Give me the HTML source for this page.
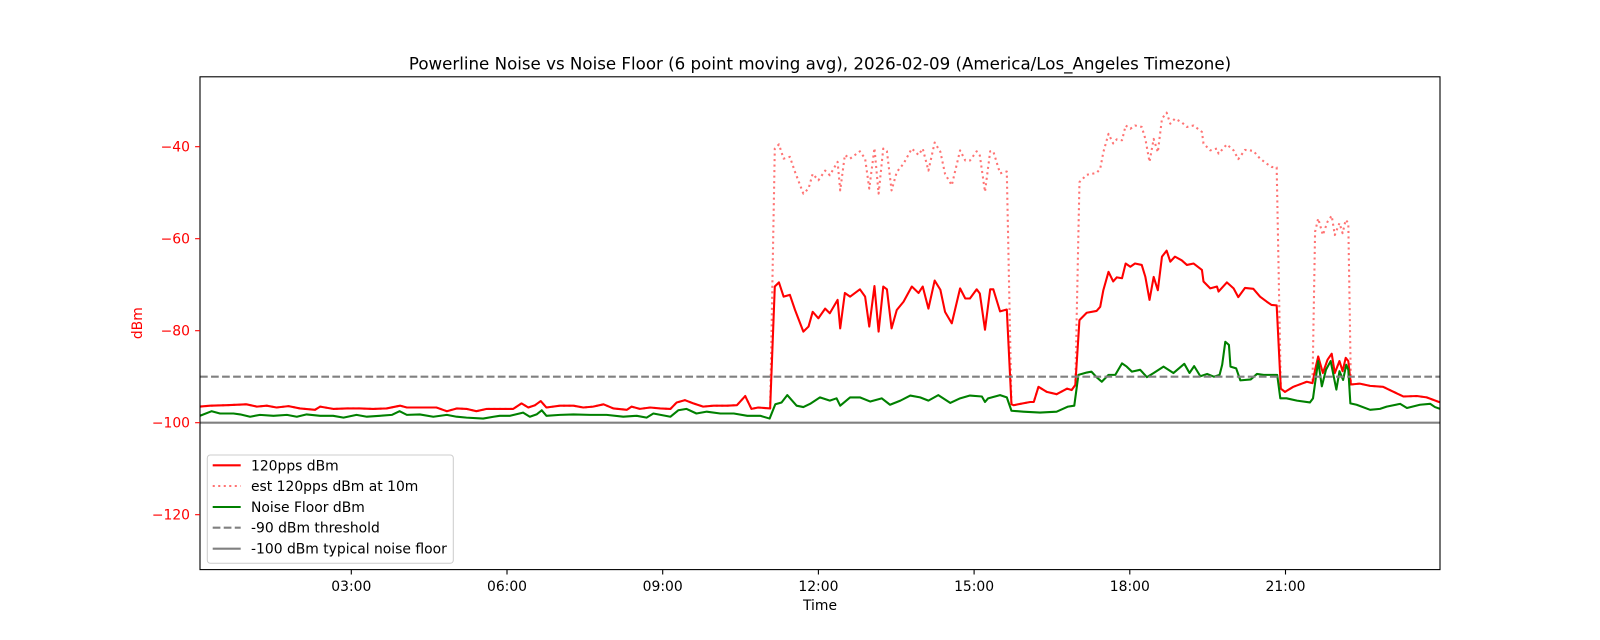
<!DOCTYPE html>
<html>
<head>
<meta charset="utf-8">
<style>
  html,body{margin:0;padding:0;background:#fff;}
  svg{display:block;}
  text{font-family:"DejaVu Sans","Liberation Sans",sans-serif;}
</style>
</head>
<body>
<svg width="1600" height="640" viewBox="0 0 1600 640" xmlns="http://www.w3.org/2000/svg">
  <defs>
    <clipPath id="ax">
      <rect x="200" y="76.8" width="1240" height="492.8"/>
    </clipPath>
  </defs>
  <rect width="1600" height="640" fill="#fff"/>

  <g clip-path="url(#ax)">
    <g transform="matrix(51.9 0 0 -4.6 195.6 -37.3)" fill="none" stroke-linejoin="round">
      <!-- 120pps dBm -->
      <polyline vector-effect="non-scaling-stroke" stroke="#ff0000" stroke-width="2.08" points="
0.085,-96.5 0.28,-96.3 0.6,-96.2 0.98,-96.0 1.18,-96.5 1.37,-96.3 1.56,-96.7 1.79,-96.4 2.01,-96.9 2.30,-97.2 2.40,-96.5 2.65,-97.0 2.91,-96.9 3.17,-96.9 3.42,-97.0 3.68,-96.9 3.94,-96.3 4.07,-96.7 4.45,-96.7 4.64,-96.7 4.84,-97.5 5.03,-96.9 5.22,-97.0 5.41,-97.5 5.61,-97.0 5.86,-97.0 6.12,-97.0 6.28,-95.8 6.41,-96.7 6.54,-96.2 6.65,-95.3 6.76,-96.7 7.02,-96.3 7.28,-96.3 7.47,-96.7 7.66,-96.5 7.86,-96.0 8.05,-96.9 8.31,-97.2 8.40,-96.5 8.56,-97.0 8.76,-96.7 8.95,-96.9 9.15,-97.0 9.27,-95.6 9.43,-95.1 9.59,-95.8 9.78,-96.5 9.98,-96.3 10.24,-96.3 10.43,-96.2 10.59,-94.2 10.71,-97.0 10.84,-96.7 11.07,-96.9
11.16,-70.4 11.24,-69.5 11.33,-72.6 11.45,-72.2 11.55,-75.5 11.71,-80.2 11.81,-79.1 11.89,-75.9 12.0,-77.3 12.13,-75.2 12.22,-76.2 12.37,-73.3 12.42,-79.5 12.51,-71.8 12.61,-72.6 12.80,-71.0 12.90,-72.6 12.98,-79.1 13.08,-70.3 13.16,-80.2 13.25,-70.4 13.32,-71.0 13.41,-79.5 13.51,-75.5 13.64,-73.7 13.80,-70.4 13.93,-71.8 14.01,-70.4 14.12,-75.2 14.24,-69.1 14.35,-71.1 14.44,-75.9 14.57,-78.4 14.73,-70.8 14.83,-73.0 14.92,-73.0 15.05,-71.0 15.11,-71.9 15.21,-79.8 15.31,-71.0 15.37,-71.0 15.50,-75.8 15.63,-75.4
15.72,-96.0 15.76,-96.2 16.08,-95.5 16.15,-95.5 16.24,-92.2 16.40,-93.3 16.59,-93.8 16.79,-92.6 16.88,-92.9 16.95,-91.8
17.03,-77.7 17.17,-76.1 17.36,-75.7 17.43,-74.8 17.49,-71.2 17.59,-67.2 17.68,-69.3 17.75,-68.4 17.85,-68.6 17.92,-65.4 18.01,-66.1 18.10,-65.4 18.23,-65.7 18.30,-68.3 18.38,-73.3 18.46,-68.3 18.54,-71.2 18.62,-63.9 18.71,-62.6 18.78,-65.0 18.87,-63.9 19.0,-64.7 19.10,-65.7 19.23,-65.4 19.39,-66.8 19.42,-69.3 19.55,-70.8 19.68,-70.4 19.71,-71.5 19.87,-69.5 20.0,-70.8 20.09,-72.7 20.22,-70.7 20.38,-70.9 20.51,-72.6 20.64,-73.7 20.73,-74.4 20.83,-74.5
20.91,-92.6 20.99,-93.3 21.15,-92.2 21.41,-91.1 21.52,-91.4
21.57,-88.5 21.63,-85.6 21.72,-89.2 21.81,-86.3 21.89,-85.0 21.95,-89.2 22.04,-86.6 22.10,-88.8 22.16,-85.9 22.21,-86.6
22.26,-91.7 22.43,-91.5 22.63,-92.0 22.88,-92.2 23.01,-92.9 23.27,-94.3 23.53,-94.2 23.72,-94.5 23.98,-95.6"/>

      <!-- est 120pps dBm at 10m -->
      <polyline vector-effect="non-scaling-stroke" stroke="#ff0000" stroke-opacity="0.55" stroke-width="2.08" stroke-dasharray="2.08 3.43" stroke-linecap="butt" points="
0.085,-96.5 0.28,-96.3 0.6,-96.2 0.98,-96.0 1.18,-96.5 1.37,-96.3 1.56,-96.7 1.79,-96.4 2.01,-96.9 2.30,-97.2 2.40,-96.5 2.65,-97.0 2.91,-96.9 3.17,-96.9 3.42,-97.0 3.68,-96.9 3.94,-96.3 4.07,-96.7 4.45,-96.7 4.64,-96.7 4.84,-97.5 5.03,-96.9 5.22,-97.0 5.41,-97.5 5.61,-97.0 5.86,-97.0 6.12,-97.0 6.28,-95.8 6.41,-96.7 6.54,-96.2 6.65,-95.3 6.76,-96.7 7.02,-96.3 7.28,-96.3 7.47,-96.7 7.66,-96.5 7.86,-96.0 8.05,-96.9 8.31,-97.2 8.40,-96.5 8.56,-97.0 8.76,-96.7 8.95,-96.9 9.15,-97.0 9.27,-95.6 9.43,-95.1 9.59,-95.8 9.78,-96.5 9.98,-96.3 10.24,-96.3 10.43,-96.2 10.59,-94.2 10.71,-97.0 10.84,-96.7 11.07,-96.9
11.16,-40.4 11.24,-39.5 11.33,-42.6 11.45,-42.2 11.55,-45.5 11.71,-50.2 11.81,-49.1 11.89,-45.9 12.0,-47.3 12.13,-45.2 12.22,-46.2 12.37,-43.3 12.42,-49.5 12.51,-41.8 12.61,-42.6 12.80,-41.0 12.90,-42.6 12.98,-49.1 13.08,-40.3 13.16,-50.2 13.25,-40.4 13.32,-41.0 13.41,-49.5 13.51,-45.5 13.64,-43.7 13.80,-40.4 13.93,-41.8 14.01,-40.4 14.12,-45.2 14.24,-39.1 14.35,-41.1 14.44,-45.9 14.57,-48.4 14.73,-40.8 14.83,-43.0 14.92,-43.0 15.05,-41.0 15.11,-41.9 15.21,-49.8 15.31,-41.0 15.37,-41.0 15.50,-45.8 15.63,-45.4
15.72,-96.0 15.76,-96.2 16.08,-95.5 16.15,-95.5 16.24,-92.2 16.40,-93.3 16.59,-93.8 16.79,-92.6 16.88,-92.9 16.95,-91.8
17.03,-47.7 17.17,-46.1 17.36,-45.7 17.43,-44.8 17.49,-41.2 17.59,-37.2 17.68,-39.3 17.75,-38.4 17.85,-38.6 17.92,-35.4 18.01,-36.1 18.10,-35.4 18.23,-35.7 18.30,-38.3 18.38,-43.3 18.46,-38.3 18.54,-41.2 18.62,-33.9 18.71,-32.6 18.78,-35.0 18.87,-33.9 19.0,-34.7 19.10,-35.7 19.23,-35.4 19.39,-36.8 19.42,-39.3 19.55,-40.8 19.68,-40.4 19.71,-41.5 19.87,-39.5 20.0,-40.8 20.09,-42.7 20.22,-40.7 20.38,-40.9 20.51,-42.6 20.64,-43.7 20.73,-44.4 20.83,-44.5
20.91,-92.6 20.99,-93.3 21.15,-92.2 21.41,-91.1 21.52,-91.4
21.57,-58.5 21.63,-55.6 21.72,-59.2 21.81,-56.3 21.89,-55.0 21.95,-59.2 22.04,-56.6 22.10,-58.8 22.16,-55.9 22.21,-56.6
22.26,-91.7 22.43,-91.5 22.63,-92.0 22.88,-92.2 23.01,-92.9 23.27,-94.3 23.53,-94.2 23.72,-94.5 23.98,-95.6"/>

      <!-- Noise Floor dBm -->
      <polyline vector-effect="non-scaling-stroke" stroke="#008000" stroke-width="2.08" points="
0.085,-98.5 0.31,-97.5 0.47,-98.0 0.73,-98.0 0.86,-98.2 1.05,-98.7 1.24,-98.3 1.50,-98.5 1.76,-98.3 1.95,-98.7 2.14,-98.2 2.40,-98.5 2.65,-98.5 2.85,-98.9 3.10,-98.3 3.30,-98.7 3.55,-98.5 3.78,-98.3 3.93,-97.5 4.07,-98.3 4.32,-98.2 4.58,-98.7 4.84,-98.3 5.03,-98.7 5.22,-98.9 5.54,-99.1 5.74,-98.7 5.86,-98.5 6.06,-98.5 6.31,-97.8 6.44,-98.7 6.57,-98.2 6.67,-97.3 6.76,-98.5 7.02,-98.3 7.28,-98.2 7.60,-98.3 7.92,-98.3 8.24,-98.7 8.50,-98.5 8.69,-98.9 8.82,-98.0 9.15,-98.7 9.30,-97.3 9.46,-97.0 9.65,-98.0 9.85,-97.6 10.11,-98.0 10.37,-98.0 10.63,-98.5 10.88,-98.5 11.06,-99.1
11.17,-96.0 11.29,-95.6 11.40,-94.0 11.58,-96.3 11.71,-96.6 11.84,-95.9 12.03,-94.5 12.22,-95.2 12.35,-94.7 12.42,-96.3 12.61,-94.5 12.80,-94.5 13.0,-95.4 13.22,-94.7 13.38,-96.1 13.58,-95.2 13.77,-94.1 13.96,-94.5 14.12,-95.2 14.31,-94.0 14.54,-95.7 14.73,-94.7 14.92,-94.1 15.15,-94.3 15.21,-95.5 15.27,-94.7 15.50,-94.0 15.63,-94.5
15.72,-97.4 15.95,-97.6 16.27,-97.8 16.59,-97.6 16.81,-96.5 16.93,-96.3
17.01,-89.6 17.17,-89.1 17.26,-88.9 17.36,-90.1 17.46,-91.1 17.59,-89.6 17.72,-89.6 17.85,-87.1 17.94,-87.8 18.04,-88.9 18.20,-88.5 18.33,-90.1 18.46,-89.2 18.65,-87.8 18.84,-89.2 19.05,-87.2 19.15,-89.2 19.24,-87.7 19.36,-89.9 19.49,-89.4 19.62,-90.0 19.73,-89.6 19.78,-87.4 19.84,-82.4 19.91,-83.1 19.94,-87.8 20.05,-88.2 20.13,-90.8 20.33,-90.6 20.45,-89.4 20.58,-89.6 20.74,-89.6 20.84,-89.6
20.90,-94.7 21.02,-94.7 21.22,-95.2 21.47,-95.6 21.53,-94.7
21.57,-91.4 21.63,-86.6 21.70,-92.1 21.78,-88.5 21.87,-86.6 21.98,-92.8 22.04,-88.8 22.11,-90.7 22.17,-87.4 22.21,-88.5
22.25,-95.8 22.37,-96.1 22.63,-97.2 22.82,-97.0 22.95,-96.5 23.21,-95.9 23.34,-96.8 23.59,-96.1 23.79,-95.9 23.88,-96.6 23.98,-97.0"/>
    </g>

    <line x1="200" y1="376.7" x2="1440" y2="376.7" stroke="#808080" stroke-width="2.08" stroke-dasharray="7.7 3.33"/>
    <line x1="200" y1="422.7" x2="1440" y2="422.7" stroke="#808080" stroke-width="2.08"/>
  </g>

  <rect x="200" y="76.8" width="1240" height="492.8" fill="none" stroke="#000" stroke-width="1.1"/>

  <g stroke="#ff0000" stroke-width="1.1">
    <line x1="195.1" y1="146.7" x2="200" y2="146.7"/>
    <line x1="195.1" y1="238.7" x2="200" y2="238.7"/>
    <line x1="195.1" y1="330.7" x2="200" y2="330.7"/>
    <line x1="195.1" y1="422.7" x2="200" y2="422.7"/>
    <line x1="195.1" y1="514.7" x2="200" y2="514.7"/>
  </g>
  <g fill="#ff0000" font-size="13.9" text-anchor="end">
    <text x="190" y="151.7">−40</text>
    <text x="190" y="243.7">−60</text>
    <text x="190" y="335.7">−80</text>
    <text x="190" y="427.7">−100</text>
    <text x="190" y="519.7">−120</text>
  </g>
  <text x="0" y="0" fill="#ff0000" font-size="13.9" text-anchor="middle" transform="translate(142,323.2) rotate(-90)">dBm</text>

  <g stroke="#000" stroke-width="1.1">
    <line x1="351.3" y1="569.6" x2="351.3" y2="574.5"/>
    <line x1="507.0" y1="569.6" x2="507.0" y2="574.5"/>
    <line x1="662.7" y1="569.6" x2="662.7" y2="574.5"/>
    <line x1="818.4" y1="569.6" x2="818.4" y2="574.5"/>
    <line x1="974.1" y1="569.6" x2="974.1" y2="574.5"/>
    <line x1="1129.8" y1="569.6" x2="1129.8" y2="574.5"/>
    <line x1="1285.5" y1="569.6" x2="1285.5" y2="574.5"/>
  </g>
  <g fill="#000" font-size="13.9" text-anchor="middle">
    <text x="351.3" y="591">03:00</text>
    <text x="507.0" y="591">06:00</text>
    <text x="662.7" y="591">09:00</text>
    <text x="818.4" y="591">12:00</text>
    <text x="974.1" y="591">15:00</text>
    <text x="1129.8" y="591">18:00</text>
    <text x="1285.5" y="591">21:00</text>
  </g>
  <text x="820" y="610" fill="#000" font-size="13.9" text-anchor="middle">Time</text>

  <text x="820" y="69.5" fill="#000" font-size="16.67" text-anchor="middle">Powerline Noise vs Noise Floor (6 point moving avg), 2026-02-09 (America/Los_Angeles Timezone)</text>

  <rect x="207.3" y="455" width="246" height="108.3" rx="3" ry="3" fill="#fff" fill-opacity="0.8" stroke="#cccccc" stroke-width="1"/>
  <line x1="212.7" y1="465.3" x2="240.7" y2="465.3" stroke="#ff0000" stroke-width="2.08"/>
  <line x1="212.7" y1="486" x2="240.7" y2="486" stroke="#ff0000" stroke-opacity="0.55" stroke-width="2.08" stroke-dasharray="2.08 3.43"/>
  <line x1="212.7" y1="507" x2="240.7" y2="507" stroke="#008000" stroke-width="2.08"/>
  <line x1="212.7" y1="527.7" x2="240.7" y2="527.7" stroke="#808080" stroke-width="2.08" stroke-dasharray="7.7 3.33"/>
  <line x1="212.7" y1="548.7" x2="240.7" y2="548.7" stroke="#808080" stroke-width="2.08"/>
  <g fill="#000" font-size="13.9">
    <text x="251" y="470.3">120pps dBm</text>
    <text x="251" y="491">est 120pps dBm at 10m</text>
    <text x="251" y="512">Noise Floor dBm</text>
    <text x="251" y="532.7">-90 dBm threshold</text>
    <text x="251" y="553.7">-100 dBm typical noise floor</text>
  </g>
</svg>
</body>
</html>
